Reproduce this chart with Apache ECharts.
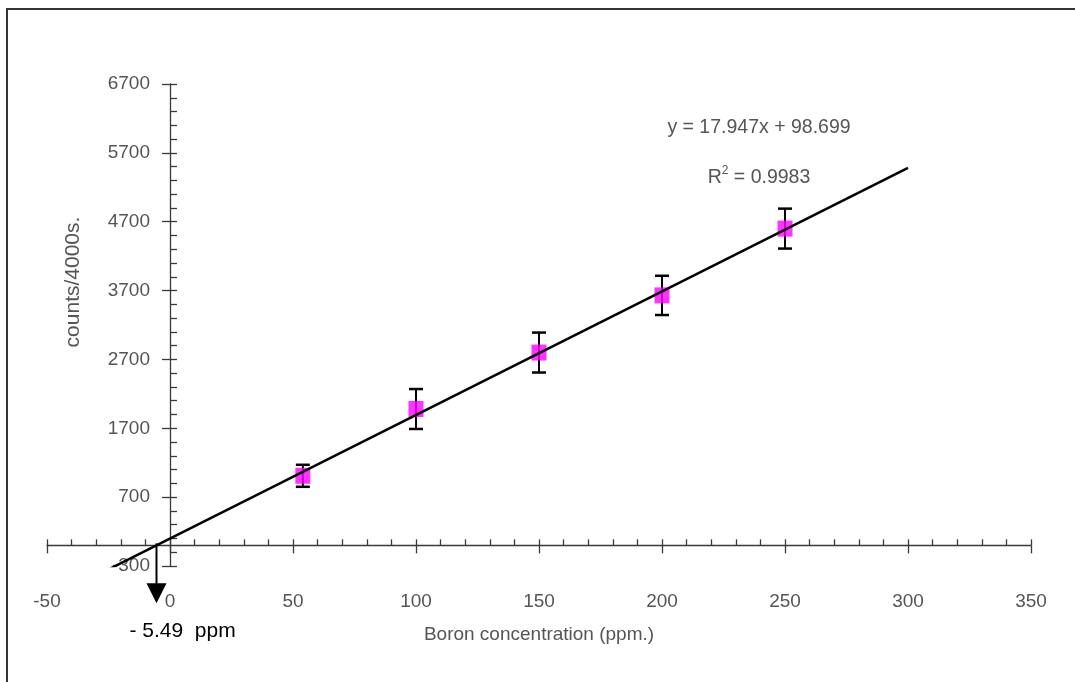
<!DOCTYPE html>
<html>
<head>
<meta charset="utf-8">
<script src="https://cdn.jsdelivr.net/npm/echarts@6/dist/echarts.min.js"></script>
<style>
  html, body { margin: 0; padding: 0; background: #fff; }
  #main { width: 1075px; height: 682px; }
</style>
</head>
<body>
<div id="main"></div>
<script>
// Boron calibration: counts per 4000 s against boron concentration
const concentration = [54, 100, 150, 200, 250];
const counts = [1010, 1980, 2800, 3630, 4600];
const countError = [160, 290, 290, 285, 290];

// Linear fit of the calibration points
const slope = 17.947;
const intercept = 98.699;
const rSquared = 0.9983;
const fitRange = [-25, 300];
const xIntercept = -5.49;

// Axis scales
const xTicks = { min: -50, max: 350, interval: 50 };
const yTicks = { min: -300, max: 6700, interval: 1000 };

const FONT = '"Liberation Sans", Arial, sans-serif';
const AXIS_COLOR = '#3a3a3a';
const LABEL_COLOR = '#555';

const chart = echarts.init(document.getElementById('main'), null, { renderer: 'canvas' });

const fitLine = fitRange.map(x => [x, slope * x + intercept]);
const errorData = concentration.map((x, i) => [x, counts[i], countError[i]]);
const pointData = concentration.map((x, i) => [x, counts[i]]);

const axisLineStyle = { color: AXIS_COLOR, width: 1.3 };

const option = {
  backgroundColor: '#fff',
  animation: false,
  grid: { left: 47, right: 44, top: 84, bottom: 116, containLabel: false, outerBoundsMode: 'none' },
  xAxis: [
    {
      type: 'value', min: xTicks.min, max: xTicks.max, interval: xTicks.interval,
      name: 'Boron concentration (ppm.)', nameLocation: 'middle', nameGap: 59,
      nameMoveOverlap: false,
      nameTextStyle: { fontFamily: FONT, fontSize: 19, color: LABEL_COLOR },
      axisLine: { show: true, onZero: true, onZeroAxisIndex: 0, lineStyle: axisLineStyle },
      axisTick: { show: true, inside: true, length: 6, lineStyle: axisLineStyle },
      minorTick: { show: true, splitNumber: 5, length: 6, lineStyle: axisLineStyle },
      axisLabel: { margin: 26, fontFamily: FONT, fontSize: 19, color: LABEL_COLOR, formatter: v => String(v) },
      splitLine: { show: false }
    },
    {
      // downward half of the major ticks
      type: 'value', position: 'bottom', min: xTicks.min, max: xTicks.max, interval: xTicks.interval,
      axisLine: { show: false, onZero: true, onZeroAxisIndex: 0 },
      axisTick: { show: true, inside: false, length: 8, lineStyle: axisLineStyle },
      axisLabel: { show: false },
      splitLine: { show: false }
    }
  ],
  yAxis: [
    {
      type: 'value', position: 'left', min: yTicks.min, max: yTicks.max, interval: yTicks.interval,
      axisLine: { show: true, onZero: true, onZeroAxisIndex: 0, lineStyle: axisLineStyle },
      axisTick: { show: true, inside: true, length: 7, lineStyle: axisLineStyle },
      minorTick: { show: true, splitNumber: 5, length: 7, lineStyle: axisLineStyle },
      // labels sit just left of the zero line
      axisLabel: { margin: -103, fontFamily: FONT, fontSize: 19, color: LABEL_COLOR, align: 'right', formatter: v => String(v) },
      splitLine: { show: false }
    },
    {
      // left half of the major ticks
      type: 'value', position: 'left', min: yTicks.min, max: yTicks.max, interval: yTicks.interval,
      axisLine: { show: false, onZero: true, onZeroAxisIndex: 0 },
      axisTick: { show: true, inside: false, length: 8, lineStyle: axisLineStyle },
      axisLabel: { show: false },
      splitLine: { show: false }
    }
  ],
  graphic: [
    {
      type: 'rect', z: -10, silent: true,
      shape: { x: 7, y: 9, width: 1100, height: 700 },
      style: { fill: 'none', stroke: '#333', lineWidth: 2 }
    },
    {
      type: 'text', x: 73, y: 282, rotation: Math.PI / 2,
      style: {
        text: 'counts/4000s.', fontFamily: FONT, fontSize: 21, fill: LABEL_COLOR,
        align: 'center', verticalAlign: 'middle'
      }
    },
    {
      type: 'text', x: 759, y: 128,
      style: {
        text: 'y = ' + slope + 'x + ' + intercept, fontFamily: FONT, fontSize: 19.5, fill: LABEL_COLOR,
        align: 'center', verticalAlign: 'middle'
      }
    },
    {
      type: 'text', x: 759, y: 178,
      style: {
        text: '{r|R}{s|2}{r| = ' + rSquared + '}',
        align: 'center', verticalAlign: 'middle',
        rich: {
          r: { fontFamily: FONT, fontSize: 19.5, fill: LABEL_COLOR, lineHeight: 26 },
          s: { fontFamily: FONT, fontSize: 12, fill: LABEL_COLOR, verticalAlign: 'top', lineHeight: 26 }
        }
      }
    }
  ],
  series: [
    {
      name: 'error',
      type: 'custom',
      data: errorData,
      encode: { x: 0, y: 1 },
      z: 2,
      renderItem: function (params, api) {
        const x = api.value(0), y = api.value(1), e = api.value(2);
        const top = api.coord([x, y + e]);
        const bot = api.coord([x, y - e]);
        const hw = 7;
        return {
          type: 'group',
          children: [
            { type: 'line', shape: { x1: top[0], y1: top[1], x2: bot[0], y2: bot[1] }, style: { stroke: '#000', lineWidth: 2 } },
            { type: 'line', shape: { x1: top[0] - hw, y1: top[1], x2: top[0] + hw, y2: top[1] }, style: { stroke: '#000', lineWidth: 2.5 } },
            { type: 'line', shape: { x1: bot[0] - hw, y1: bot[1], x2: bot[0] + hw, y2: bot[1] }, style: { stroke: '#000', lineWidth: 2.5 } }
          ]
        };
      }
    },
    {
      name: 'counts',
      type: 'scatter',
      data: pointData,
      symbol: 'rect',
      symbolSize: [15, 16],
      itemStyle: { color: '#ff00ff' },
      z: 3
    },
    {
      name: 'fit',
      type: 'line',
      data: fitLine,
      showSymbol: false,
      symbol: 'none',
      clip: true,
      lineStyle: { color: '#000', width: 2.5 },
      z: 4
    },
    {
      name: 'intercept',
      type: 'custom',
      data: [[xIntercept, 0]],
      encode: { x: 0, y: 1 },
      clip: false,
      z: 5,
      renderItem: function (params, api) {
        const p = api.coord([api.value(0), api.value(1)]);
        return {
          type: 'group',
          children: [
            { type: 'line', shape: { x1: p[0], y1: p[1] - 2, x2: p[0], y2: p[1] + 40 }, style: { stroke: '#000', lineWidth: 2 } },
            { type: 'polygon', shape: { points: [[p[0] - 10, p[1] + 38], [p[0] + 10, p[1] + 38], [p[0], p[1] + 58]] }, style: { fill: '#000' } },
            {
              type: 'text',
              style: {
                text: '- ' + Math.abs(api.value(0)).toFixed(2) + '  ppm',
                x: p[0] - 27, y: p[1] + 86,
                fontFamily: FONT, fontSize: 21, fill: '#000',
                align: 'left', verticalAlign: 'middle'
              }
            }
          ]
        };
      }
    }
  ]
};

chart.setOption(option);
</script>
</body>
</html>
